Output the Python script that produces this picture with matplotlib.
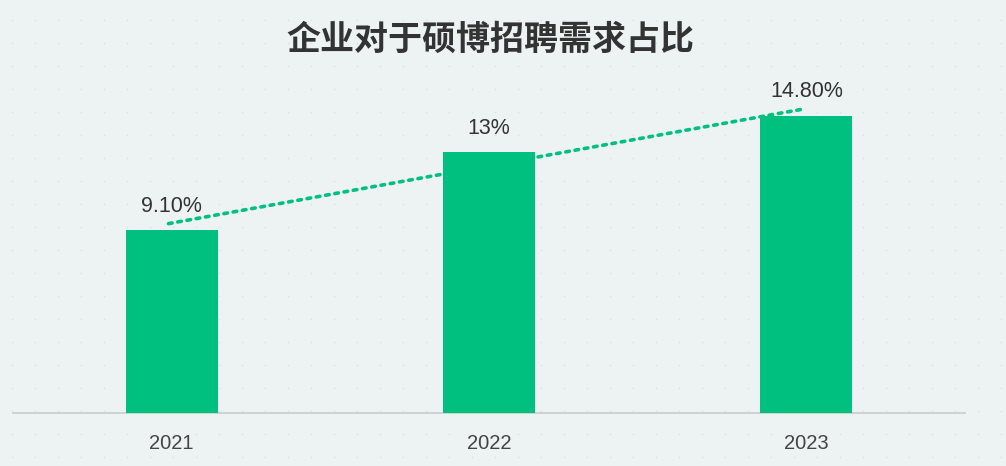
import matplotlib.pyplot as plt
import numpy as np

plt.rcParams['font.family'] = ['Noto Sans CJK SC', 'DejaVu Sans']

# 数据
years = ['2021', '2022', '2023']
share = [9.10, 13.0, 14.80]
share_labels = ['9.10%', '13%', '14.80%']
title = '企业对于硕博招聘需求占比'

bg = '#edf3f2'
green = '#00c07f'

fig = plt.figure(figsize=(10.06, 4.66), dpi=100, facecolor=bg)

# 背景的淡点阵
bg_ax = fig.add_axes([0, 0, 1, 1], zorder=0)
bg_ax.set_xlim(0, 1006)
bg_ax.set_ylim(466, 0)
bg_ax.axis('off')
gx, gy = np.meshgrid(np.arange(12, 1006, 23), np.arange(20, 466, 23))
bg_ax.scatter(gx.ravel(), gy.ravel(), s=1.5, color='#dbe3e2', linewidths=0)

# 主图
ax = fig.add_axes([13 / 1006, (466 - 413) / 466, 952 / 1006, 400 / 466], zorder=1)
ax.patch.set_alpha(0)
x = np.arange(len(years))
ax.bar(x, share, width=0.29, color=green, zorder=3)

# 趋势线(线性拟合)
k, b = np.polyfit(x, share, 1)
xt = np.array([-0.01, 1.99])
ax.plot(xt, k * xt + b, linestyle=(0, (1, 1.6)), linewidth=2.6,
        color=green, dash_capstyle='round', zorder=2)

for xi, v, lab in zip(x, share, share_labels):
    ax.text(xi, v + 0.65, lab, ha='center', va='bottom', fontsize=15.5,
            color='#333333', family=['Liberation Sans'])

ax.set_xlim(-0.5, 2.5)
ax.set_ylim(0, 400 / 20.1)
ax.set_xticks(x)
ax.set_xticklabels(years, fontsize=14.5, color='#444444', family=['Liberation Sans'])
ax.tick_params(axis='x', length=0, pad=15)
ax.set_yticks([])
for s in ['top', 'right', 'left']:
    ax.spines[s].set_visible(False)
ax.spines['bottom'].set_color('#c8cdcc')
ax.spines['bottom'].set_linewidth(1.2)

fig.text(490 / 1006, 1 - 39 / 466, title, ha='center', va='center',
         fontsize=24.5, fontweight='bold', color='#333333')

fig.savefig('out.png', dpi=100, facecolor=bg)
